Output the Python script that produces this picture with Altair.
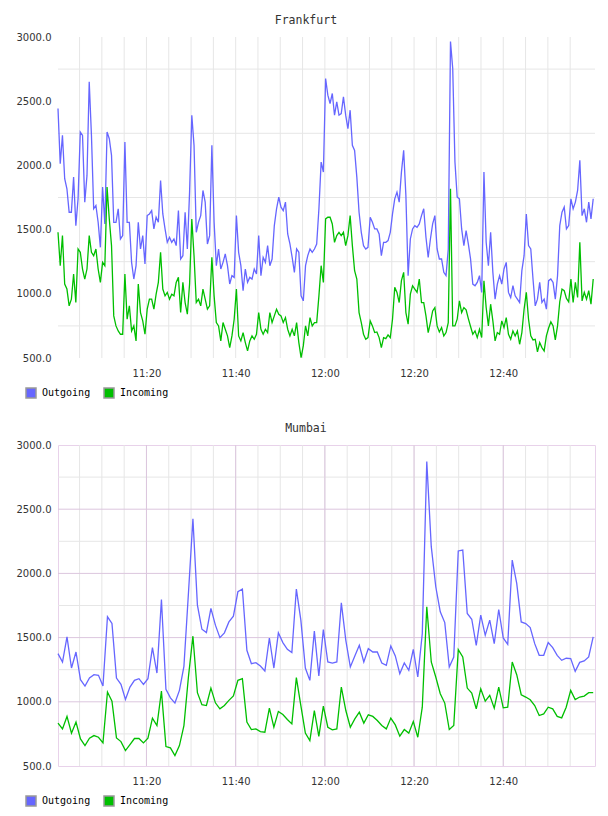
import altair as alt
import pandas as pd

DAY = "2024-03-01"

series_names = ["Outgoing", "Incoming"]
series_colors = ["#6666ff", "#00bf00"]

# Frankfurt: 30-second samples starting 11:00:10
frankfurt_start = "11:00:10"
frankfurt_step = "30s"
frankfurt_outgoing = [
    2443, 2013, 2234, 1896, 1818, 1635, 1635, 1909, 1531, 1740,
    2260, 2234, 1714, 1922, 2651, 2234, 1662, 1688, 1557, 1362,
    1831, 1544, 2260, 2208, 2078, 1557, 1557, 1662, 1427, 1453,
    2182, 1557, 1557, 1245, 1115, 1219, 1557, 1349, 1453, 1232,
    1609, 1622, 1648, 1505, 1596, 1557, 1883, 1622, 1505, 1401,
    1440, 1401, 1427, 1375, 1648, 1271, 1297, 1635, 1349, 1792,
    2391, 2156, 1479, 1557, 1609, 1805, 1714, 1388, 1453, 2156,
    1557, 1219, 1349, 1193, 1245, 1310, 1219, 1076, 1141, 1128,
    1609, 1323, 1219, 1024, 1193, 1089, 1128, 1115, 1193, 1154,
    1453, 1141, 1284, 1245, 1375, 1219, 1271, 1531, 1662, 1753,
    1675, 1648, 1714, 1466, 1388, 1284, 1167, 1349, 1323, 985,
    945, 1219, 1297, 1349, 1323, 1349, 1388, 1662, 2026, 1948,
    2677, 2547,
    2482, 2560, 2391, 2495, 2391, 2404, 2534, 2391, 2287, 2430,
    2156, 2117, 1909, 1635, 1479, 1375, 1349, 1362, 1596, 1557,
    1505, 1505, 1466, 1297, 1401, 1401, 1414, 1479, 1622, 1740,
    1792, 1714, 1948, 2117, 1766, 1141, 1427, 1505, 1531, 1518,
    1544, 1609, 1662, 1440, 1284, 1427, 1544, 1609, 1349, 1271,
    1271, 1167, 1141, 1349, 2964, 2755, 2026, 1753, 1740, 1505,
    1375, 1492, 1388, 1271, 1076, 1063, 1089, 1141, 1011, 1948,
    1401, 1219, 1479, 1167, 958, 1076, 1141, 1076, 1193, 1245,
    1011, 971, 1063, 984, 958, 932, 1180, 1297, 1622, 1375,
    1349, 1115, 906, 958, 1089, 932, 958, 880, 1102, 1115,
    1089, 958, 1141, 1531, 1635, 1675, 1505, 1531, 1740, 1662,
    1714, 1805, 2039, 1609, 1662, 1557, 1714, 1583, 1740,
]
frankfurt_incoming = [
    1479, 1219, 1453, 1076, 1037, 906, 958, 1154, 932, 1349,
    1323, 1193, 1115, 1193, 1453, 1323, 1297, 1349, 1193, 1089,
    1245, 1219, 1831, 1583, 1375, 828, 750, 711, 685, 685,
    1154, 802, 906, 711, 750, 633, 1076, 854, 789, 685,
    880, 958, 958, 880, 997, 1089, 1323, 1037, 984, 1011,
    958, 997, 984, 1089, 1128, 854, 1089, 932, 841, 1076,
    1583, 1297, 932, 958, 906, 1037, 958, 880, 906, 1284,
    984, 776, 750, 633, 776, 724, 672, 581, 672, 802,
    1037, 672, 633, 698, 620, 555, 633, 672, 646, 685,
    854, 724, 685, 724, 698, 854, 776, 828, 880, 841,
    828, 776, 815, 724, 672, 724, 672, 776, 620, 503,
    594, 750, 672, 815, 750, 776, 776, 984, 1219, 1089,
    1583, 1596,
    1596, 1544, 1401, 1453, 1479, 1453, 1479, 1375, 1453, 1609,
    1375, 1180, 1115, 854, 776, 685, 646, 659, 789, 750,
    698, 703, 659, 581, 659, 651, 680, 659, 802, 1050,
    1011, 932, 1102, 1167, 854, 763, 997, 1063, 1037, 1011,
    1115, 932, 932, 828, 698, 776, 867, 893, 750, 703,
    737, 672, 698, 776, 1818, 750, 750, 802, 945, 854,
    893, 875, 807, 745, 685, 711, 659, 724, 659, 1102,
    893, 750, 919, 789, 633, 698, 685, 789, 737, 815,
    685, 646, 711, 672, 711, 607, 698, 880, 1011, 802,
    672, 641, 646, 547, 620, 581, 555, 672, 734, 781,
    750, 641, 750, 938, 1037, 1024, 964, 938, 1115, 932,
    1089, 971, 1401, 945, 1011, 958, 1024, 919, 1115,
]

# Mumbai: roughly one sample per minute starting 11:00:10
mumbai_start = "11:00:10"
mumbai_step = "60500ms"
mumbai_outgoing = [
    1375, 1310, 1505, 1263, 1388, 1172, 1123, 1185, 1211, 1206,
    1123, 1662, 1610, 1185, 1136, 1018, 1115, 1167, 1180, 1136,
    1180, 1422, 1224, 1797, 1097, 1031, 990, 1089, 1276, 1844,
    2425, 1753, 1565, 1539, 1727, 1597, 1500, 1537, 1622, 1667,
    1857, 1878, 1401, 1297, 1305, 1279, 1240, 1497, 1263, 1537,
    1461, 1409, 1383, 1878, 1636, 1263, 1167, 1550, 1201, 1563,
    1310, 1302, 1310, 1771, 1479, 1271, 1357, 1440, 1310, 1414,
    1388, 1388, 1302, 1284, 1435, 1357, 1219, 1302, 1245, 1409,
    1193, 1531, 2872, 2208, 1896, 1701, 1617, 1271, 1349, 2175,
    2182, 1688, 1643, 1440, 1675, 1518, 1636, 1453, 1719, 1497,
    1448, 2104, 1922, 1622, 1609, 1578, 1453, 1362, 1362, 1461,
    1422, 1362, 1323, 1339, 1336, 1237, 1307, 1318, 1349, 1505,
]
mumbai_incoming = [
    834, 789, 886, 756, 842, 711, 659, 716, 737, 724,
    680, 1076, 1005, 719, 690, 620, 667, 714, 714, 680,
    716, 873, 815, 1083, 651, 641, 581, 659, 815, 1193,
    1511, 1071, 977, 971, 1107, 992, 945, 971, 1011, 1045,
    1167, 1180, 842, 784, 789, 768, 763, 951, 802, 925,
    901, 862, 828, 1188, 971, 756, 698, 932, 730, 966,
    802, 781, 789, 1115, 932, 802, 867, 919, 834, 899,
    886, 854, 815, 789, 873, 820, 732, 784, 756, 847,
    724, 958, 1740, 1310, 1193, 1063, 990, 784, 815, 1406,
    1349, 1107, 1068, 945, 1102, 1005, 1050, 951, 1115, 953,
    958, 1310, 1211, 1055, 1037, 1016, 971, 893, 906, 958,
    945, 886, 875, 958, 1089, 1018, 1037, 1045, 1071, 1071,
]

y_ticks = [500, 1000, 1500, 2000, 2500, 3000]
x_label_times = ["11:20", "11:40", "12:00", "12:20", "12:40"]
x_domain = ["11:00:10", "13:00:34"]
minor_grid_values = [750, 1250, 1750, 2250, 2750]
minor_grid_times = [
    "11:05", "11:10", "11:15", "11:20", "11:25", "11:30", "11:35", "11:40",
    "11:45", "11:50", "11:55", "12:00", "12:05", "12:10", "12:15", "12:20",
    "12:25", "12:30", "12:35", "12:40", "12:45", "12:50", "12:55",
]
major_grid_values = [1000, 1500, 2000, 2500]
major_grid_times = ["11:20", "11:40", "12:00", "12:20", "12:40"]

LABEL_FONT = "DejaVu Sans"
MONO_FONT = "DejaVu Sans Mono"
MINOR_GRID = "#e6e6e6"
MAJOR_GRID = "#dcc6de"
BORDER = "#e8d2ea"


def to_dt(hms):
    parts = [int(p) for p in hms.split(":")]
    sec = parts[2] if len(parts) > 2 else 0
    return alt.DateTime(year=2024, month=3, date=1,
                        hours=parts[0], minutes=parts[1], seconds=sec)


def stamp(hms):
    return pd.Timestamp(f"{DAY} {hms}")


def series_frame(start, step, outgoing, incoming):
    parts = []
    for name, vals in zip(series_names, [outgoing, incoming]):
        times = pd.date_range(stamp(start), periods=len(vals), freq=step)
        parts.append(pd.DataFrame({"time": times, "value": vals, "series": name}))
    return pd.concat(parts, ignore_index=True)


x_scale = alt.Scale(domain=[to_dt(x_domain[0]), to_dt(x_domain[1])], nice=False)
y_scale = alt.Scale(domain=[500, 3000], nice=False, zero=False)
fill_scale = alt.Scale(domain=series_names, range=series_colors)

x_axis = alt.Axis(
    values=[to_dt(t) for t in x_label_times], format="%H:%M", title=None,
    grid=False, ticks=False, tickSize=0, domain=False, labelPadding=10,
    labelFont=LABEL_FONT, labelFontSize=10, labelColor="#333333",
)
y_axis = alt.Axis(
    values=y_ticks, format=".1f", title=None, grid=False, ticks=False,
    tickSize=0, domain=False, labelPadding=7,
    labelFont=LABEL_FONT, labelFontSize=10, labelColor="#333333",
)


def hrules(values, color):
    return alt.Chart(pd.DataFrame({"v": values})).mark_rule(
        color=color, strokeWidth=1
    ).encode(y=alt.Y("v:Q", scale=y_scale, axis=y_axis))


def vrules(times, color):
    return alt.Chart(pd.DataFrame({"t": [stamp(t) for t in times]})).mark_rule(
        color=color, strokeWidth=1
    ).encode(x=alt.X("t:T", scale=x_scale, axis=x_axis))


def panel(title, df, framed):
    layers = [hrules(minor_grid_values, MINOR_GRID), vrules(minor_grid_times, MINOR_GRID)]
    if framed:
        layers += [hrules(major_grid_values, MAJOR_GRID), vrules(major_grid_times, MAJOR_GRID)]

    # One line per series, each in its own colour
    for name, color in zip(series_names, series_colors):
        layers.append(
            alt.Chart(df).transform_filter(alt.datum.series == name)
            .mark_line(strokeWidth=1.3, color=color)
            .encode(
                x=alt.X("time:T", scale=x_scale, axis=x_axis),
                y=alt.Y("value:Q", scale=y_scale, axis=y_axis),
            )
        )

    # Filled square swatches for the legend
    key = alt.Chart(df).transform_filter("false").mark_square(opacity=1).encode(
        fill=alt.Fill(
            "series:N", scale=fill_scale,
            legend=alt.Legend(
                title=None, orient="none", legendX=-33, legendY=350,
                direction="horizontal", symbolType="square", symbolSize=100,
                labelFont=MONO_FONT, labelFontSize=10, labelColor="#000000",
                columnPadding=10, labelOffset=5, padding=0,
                symbolStrokeColor="#999999", symbolStrokeWidth=1.5,
                symbolOpacity=1,
            ),
        )
    )
    layers.append(key)

    view = alt.ViewBackground(stroke=BORDER, strokeWidth=1) if framed else alt.ViewBackground(stroke="transparent")
    return alt.layer(*layers).properties(
        width=537, height=321,
        title=alt.TitleParams(
            title, font=MONO_FONT, fontSize=11.5, fontWeight="normal",
            color="#333333", anchor="middle", frame="bounds", offset=6,
        ),
        view=view,
    )


frankfurt = panel("Frankfurt", series_frame(frankfurt_start, frankfurt_step,
                                            frankfurt_outgoing, frankfurt_incoming), False)
mumbai = panel("Mumbai", series_frame(mumbai_start, mumbai_step,
                                      mumbai_outgoing, mumbai_incoming), True)

chart = alt.vconcat(frankfurt, mumbai, spacing=20).resolve_scale(
    fill="independent"
).resolve_legend(fill="independent").properties(
    padding={"left": 15, "top": 14, "right": 0, "bottom": 0},
    background="white",
)

chart.save("out.html", embed_options={"renderer": "svg", "actions": False})
